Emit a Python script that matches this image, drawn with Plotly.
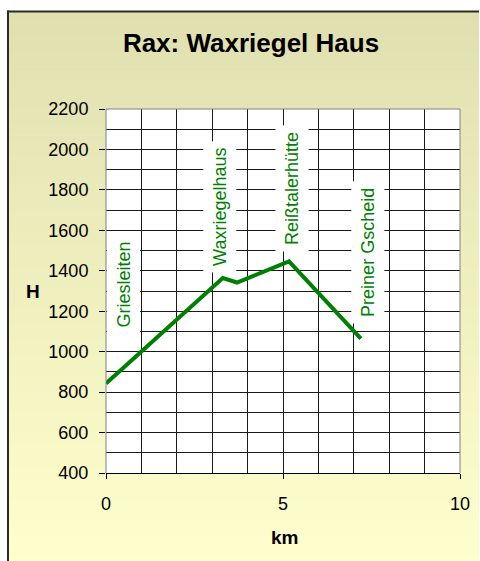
import plotly.graph_objects as go

# ---------------- data ----------------
km = [0, 3.3, 3.7, 5.17, 7.2]
hoehe = [843, 1364, 1342, 1446, 1065]

orte = ["Griesleiten", "Waxriegelhaus", "Reißtalerhütte", "Preiner Gscheid"]
ort_km = [0, 3.3, 5.17, 7.2]
ort_h = [843, 1364, 1446, 1065]

x_ticks = [0, 5, 10]
y_ticks = [400, 600, 800, 1000, 1200, 1400, 1600, 1800, 2000, 2200]

title_text = "Rax: Waxriegel Haus"
x_title = "km"
y_title = "H"

# ---------------- layout geometry (pixels) ----------------
W, H = 480, 561
ML, MR, MT, MB = 106, 20, 109, 88
PW, PH = W - ML - MR, H - MT - MB
FONT = "Liberation Sans, Arial, sans-serif"
GREEN = "#008000"


def px2x(px):
    return (px - ML) / PW


def py2y(py):
    return (H - MB - py) / PH


# label placement offsets (pixels relative to the data point)
label_dx = [18, -3, 3, 7]
label_dy = [49, 5, 9, 15]

fig = go.Figure()
fig.add_trace(go.Scatter(
    x=km, y=hoehe, mode="lines",
    line=dict(color=GREEN, width=4),
    hoverinfo="skip", showlegend=False,
))

shapes = []
# gradient chart-area background
top_c = (224, 223, 176)
bot_c = (255, 255, 205)
y0p, y1p = 11, H + 2
n = 80
for i in range(n):
    a = y0p + (y1p - y0p) * i / n
    b = y0p + (y1p - y0p) * (i + 1) / n + 0.6
    t = (i + 0.5) / n
    c = tuple(round(top_c[k] + (bot_c[k] - top_c[k]) * t) for k in range(3))
    shapes.append(dict(type="rect", xref="paper", yref="paper", layer="below",
                       x0=px2x(8), x1=px2x(479), y0=py2y(b), y1=py2y(a),
                       fillcolor="rgb(%d,%d,%d)" % c, line=dict(width=0)))
# outer border (left + top)
shapes.append(dict(type="line", xref="paper", yref="paper", layer="below",
                   x0=px2x(8), x1=px2x(8), y0=py2y(H + 2), y1=py2y(10.5),
                   line=dict(color="#2a2a2a", width=2)))
shapes.append(dict(type="line", xref="paper", yref="paper", layer="below",
                   x0=px2x(7), x1=px2x(479), y0=py2y(11.5), y1=py2y(11.5),
                   line=dict(color="#2a2a2a", width=2)))
# white plot area
shapes.append(dict(type="rect", xref="paper", yref="paper", layer="below",
                   x0=0, x1=1, y0=0, y1=1, fillcolor="white", line=dict(width=0)))
# gray plot border (left, top, right)
for (xa, ya, xb, yb) in [(0, 0, 0, 1), (0, 1, 1, 1), (1, 0, 1, 1)]:
    shapes.append(dict(type="line", xref="paper", yref="paper", layer="above",
                       x0=xa, y0=ya, x1=xb, y1=yb,
                       line=dict(color="#808080", width=1)))

annotations = []
for name, xv, yv, dx, dy in zip(orte, ort_km, ort_h, label_dx, label_dy):
    annotations.append(dict(
        x=xv, y=yv, xref="x", yref="y", text=name, showarrow=False,
        textangle=-90, xanchor="center", yanchor="bottom",
        xshift=dx, yshift=dy,
        font=dict(family=FONT, size=18, color=GREEN),
        bgcolor="white", borderpad=6,
    ))
annotations.append(dict(x=px2x(33), y=py2y(291), xref="paper", yref="paper",
                        xanchor="center", yanchor="middle",
                        text="<b>%s</b>" % y_title, showarrow=False,
                        font=dict(family=FONT, size=19, color="black")))
annotations.append(dict(x=px2x(284), y=py2y(537), xref="paper", yref="paper",
                        xanchor="center", yanchor="middle",
                        text="<b>%s</b>" % x_title, showarrow=False,
                        font=dict(family=FONT, size=19, color="black")))

fig.update_layout(
    width=W, height=H,
    margin=dict(l=ML, r=MR, t=MT, b=MB, autoexpand=False),
    paper_bgcolor="white", plot_bgcolor="white",
    font=dict(family=FONT, color="black"),
    title=dict(text="<b>%s</b>" % title_text, x=251 / W, xref="container",
               xanchor="center", y=1 - 43 / H, yref="container", yanchor="middle",
               font=dict(family=FONT, size=26, color="black")),
    shapes=shapes, annotations=annotations, showlegend=False,
)
fig.update_xaxes(
    range=[0, 10], tickmode="array", tickvals=x_ticks,
    ticks="outside", ticklen=5, tickcolor="black", tickwidth=1,
    showgrid=True, gridcolor="#1a1a1a", gridwidth=1,
    minor=dict(tick0=0, dtick=1, showgrid=True, gridcolor="#1a1a1a", gridwidth=1, ticks=""),
    showline=True, linecolor="black", linewidth=1, zeroline=False,
    tickfont=dict(family=FONT, size=18, color="black"),
    ticklabelstandoff=9, automargin=False, fixedrange=True,
)
fig.update_yaxes(
    range=[400, 2200], tickmode="array", tickvals=y_ticks,
    ticks="outside", ticklen=6, tickcolor="black", tickwidth=1,
    showgrid=True, gridcolor="#1a1a1a", gridwidth=1,
    minor=dict(tick0=0, dtick=100, showgrid=True, gridcolor="#1a1a1a", gridwidth=1, ticks=""),
    showline=False, zeroline=False,
    tickfont=dict(family=FONT, size=18, color="black"),
    ticklabelstandoff=7, automargin=False, fixedrange=True,
)

fig.write_html(
    "out.html",
    config=dict(displayModeBar=False),
    post_script="document.body.style.margin='0';document.body.style.padding='0';",
)
